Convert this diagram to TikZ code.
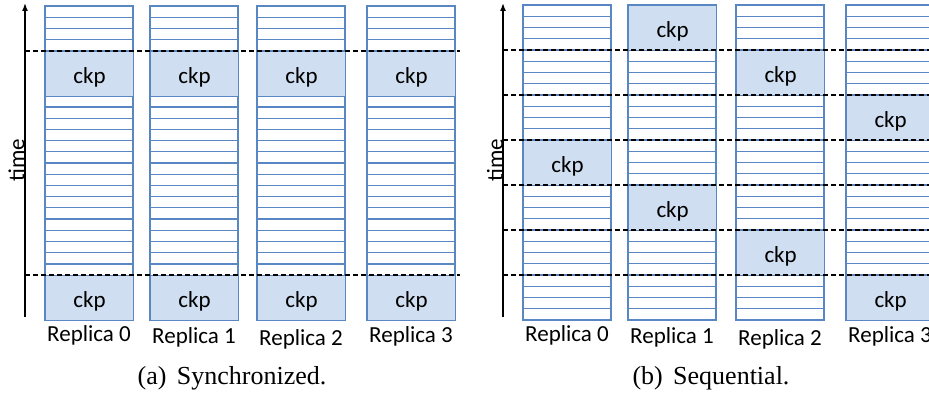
\documentclass[tikz,border=0pt]{standalone}
\usepackage{fontspec}
\setmainfont{Carlito}
\newfontfamily\capfont{Liberation Serif}
\usetikzlibrary{arrows.meta}
\definecolor{rowline}{RGB}{88,135,196}
\definecolor{ckpfill}{RGB}{207,222,240}

% one replica column: #1 left x, #2 top y, #3 row height (28 rows, 88 wide)
\newcommand{\stripecol}[3]{%
  \foreach \r in {1,...,27} \draw[stripe] (#1,#2+\r*#3) -- ++(88,0);
  \draw[stripe] (#1,#2) rectangle ++(88,28*#3);
}

\begin{document}
\begin{tikzpicture}[x=1pt,y=-1pt,
  stripe/.style={draw=rowline, line width=1.25pt},
  ckpbox/.style={fill=ckpfill, draw=rowline, line width=1.25pt, anchor=north west,
    minimum width=88pt, inner sep=0pt,
    label={[font=\fontsize{23}{27}\selectfont, yshift=-3pt]center:ckp}},
  syncline/.style={draw=black, dash pattern=on 5pt off 3pt, line width=1.4pt},
  timeaxis/.style={draw=black, line width=1.5pt, -{Latex[length=8pt,width=6pt]}},
  lbl/.style={font=\fontsize{23}{27}\selectfont, inner sep=0pt},
  captext/.style={font=\capfont\fontsize{26}{30}\selectfont, inner sep=0pt}]
\useasboundingbox (0,0) rectangle (929,401);

% ---------- (a) synchronized checkpoints ----------
\def\hA{11.214}
\foreach \x/\n in {45/0,150/1,257/2,367/3} {
  \stripecol{\x}{6}{\hA}
  \node[ckpbox, minimum height=4*\hA pt] (ckpA\n-1) at (\x,6+4*\hA) {};
  \node[ckpbox, minimum height=4*\hA pt] (ckpA\n-2) at (\x,6+24*\hA) {};
}
\foreach \x/\n/\y in {89/0/335,194/1/337,301/2/339,411/3/336}
  \node[lbl] (repA\n) at (\x,\y) {Replica \n};

\coordinate (tA0) at (25,317);
\coordinate (tA1) at (25,3);
\draw[timeaxis] (tA0) -- (tA1);
\node[lbl, rotate=90] (timeA) at (16.5,160) {time};

\coordinate (dA1s) at (25,6+4*\hA);  \coordinate (dA1e) at (460,6+4*\hA);
\coordinate (dA2s) at (25,6+24*\hA); \coordinate (dA2e) at (460,6+24*\hA);
\draw[syncline] (dA1s) -- (dA1e);
\draw[syncline] (dA2s) -- (dA2e);

\node[captext] (capA) at (232,378) {(a)\hspace{0.4em}Synchronized.};

% ---------- (b) sequential checkpoints ----------
\def\hB{11.25}
\foreach \x in {523,628,736,846} \stripecol{\x}{5}{\hB}
\foreach \x/\n/\b in {523/0/3,628/1/0,628/1/4,736/2/1,736/2/5,846/3/2,846/3/6}
  \node[ckpbox, minimum height=4*\hB pt] (ckpB\n-\b) at (\x,5+4*\b*\hB) {};
\foreach \x/\n/\y in {567/0/335,672/1/337,780/2/339,890/3/336}
  \node[lbl] (repB\n) at (\x,\y) {Replica \n};

\coordinate (tB0) at (503,317);
\coordinate (tB1) at (503,3);
\draw[timeaxis] (tB0) -- (tB1);
\node[lbl, rotate=90] (timeB) at (495,160) {time};

\foreach \k in {1,...,6} {
  \coordinate (dB\k s) at (503,5+4*\k*\hB);
  \coordinate (dB\k e) at (935,5+4*\k*\hB);
  \draw[syncline] (dB\k s) -- (dB\k e);
}

\node[captext] (capB) at (711,378) {(b)\hspace{0.4em}Sequential.};
\end{tikzpicture}
\end{document}
